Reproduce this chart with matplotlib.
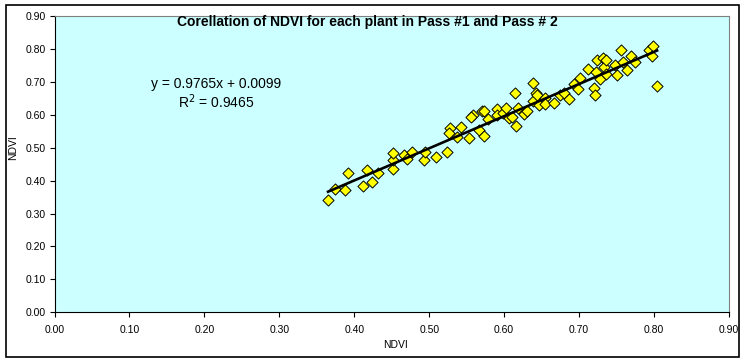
import numpy as np
from matplotlib import pyplot as plt
from matplotlib.patches import Rectangle

plt.rcParams['font.family'] = ['Liberation Sans', 'DejaVu Sans']

# NDVI values, pass #1 (x) vs pass #2 (y)
pass1 = [0.365, 0.374, 0.388, 0.392, 0.411, 0.417, 0.423, 0.432, 0.452, 0.452,
         0.452, 0.466, 0.470, 0.477, 0.493, 0.495, 0.509, 0.524, 0.528, 0.537,
         0.543, 0.553, 0.558, 0.567, 0.570, 0.573, 0.573, 0.578, 0.590, 0.591,
         0.598, 0.602, 0.606, 0.610, 0.615, 0.616, 0.618, 0.626, 0.630, 0.639,
         0.639, 0.643, 0.644, 0.646, 0.654, 0.655, 0.666, 0.674, 0.680, 0.686,
         0.693, 0.698, 0.701, 0.712, 0.720, 0.721, 0.723, 0.724, 0.728, 0.732,
         0.733, 0.736, 0.736, 0.748, 0.751, 0.756, 0.758, 0.764, 0.769, 0.774,
         0.793, 0.799, 0.797, 0.804, 0.556, 0.527]
pass2 = [0.340, 0.375, 0.371, 0.422, 0.384, 0.431, 0.395, 0.422, 0.434, 0.463,
         0.483, 0.479, 0.466, 0.488, 0.462, 0.488, 0.472, 0.488, 0.559, 0.532,
         0.564, 0.529, 0.598, 0.554, 0.611, 0.610, 0.536, 0.587, 0.618, 0.600,
         0.604, 0.621, 0.591, 0.594, 0.665, 0.565, 0.621, 0.602, 0.611, 0.696,
         0.643, 0.667, 0.659, 0.630, 0.650, 0.632, 0.637, 0.661, 0.667, 0.648,
         0.694, 0.677, 0.711, 0.738, 0.680, 0.659, 0.731, 0.766, 0.709, 0.772,
         0.744, 0.766, 0.725, 0.751, 0.720, 0.796, 0.759, 0.736, 0.779, 0.761,
         0.797, 0.809, 0.779, 0.686, 0.594, 0.546]

slope = 0.9765
intercept = 0.0099
r2 = 0.9465
ticks = [0.0, 0.1, 0.2, 0.3, 0.4, 0.5, 0.6, 0.7, 0.8, 0.9]

W, H = 745, 361
fig = plt.figure(figsize=(W / 100, H / 100), dpi=100)
fig.patches.append(Rectangle((5.5 / W, 1 - 356.5 / H), 733.5 / W, 351.5 / H,
                             transform=fig.transFigure, fill=False, edgecolor='black', lw=1.2))
ax = fig.add_axes([54.5 / W, 1 - 312.3 / H, 674.5 / W, 296.3 / H])
ax.set_facecolor('#CCFFFF')

ax.scatter(pass1, pass2, marker='D', s=32, facecolor='#FFFF00', edgecolor='black',
           linewidth=0.7, zorder=3)
xl = np.array([min(pass1), max(pass1)])
ax.plot(xl, slope * xl + intercept, color='black', lw=1.9, zorder=4)

ax.set_xlim(0, 0.9)
ax.set_ylim(0, 0.9)
ax.set_xticks(ticks)
ax.set_yticks(ticks)
ax.set_xticklabels(['%.2f' % t for t in ticks])
ax.set_yticklabels(['%.2f' % t for t in ticks])
ax.tick_params(direction='out', length=3.5, width=0.8, labelsize=7.5)
ax.tick_params(axis='x', pad=5.5)
ax.tick_params(axis='y', pad=3)
for s in ['left', 'bottom']:
    ax.spines[s].set_color('black')
for s in ['top', 'right']:
    ax.spines[s].set_color('#808080')

fig.text(395 / W, 1 - 345 / H, 'NDVI', ha='center', va='center', fontsize=7.5)
fig.text(12.7 / W, 1 - 148 / H, 'NDVI', ha='center', va='center', fontsize=7.5, rotation=90)

fig.text(367.5 / W, 1 - 25.7 / H, 'Corellation of NDVI for each plant in Pass #1 and Pass # 2',
         ha='center', va='baseline', fontsize=10, fontweight='bold')
fig.text(216 / W, 1 - 88.3 / H, 'y = %.4fx + %.4f' % (slope, intercept),
         ha='center', va='baseline', fontsize=10)
fig.text(216 / W, 1 - 108 / H, 'R$^2$ = %.4f' % r2,
         ha='center', va='baseline', fontsize=10)

fig.savefig('out.png', dpi=100)
